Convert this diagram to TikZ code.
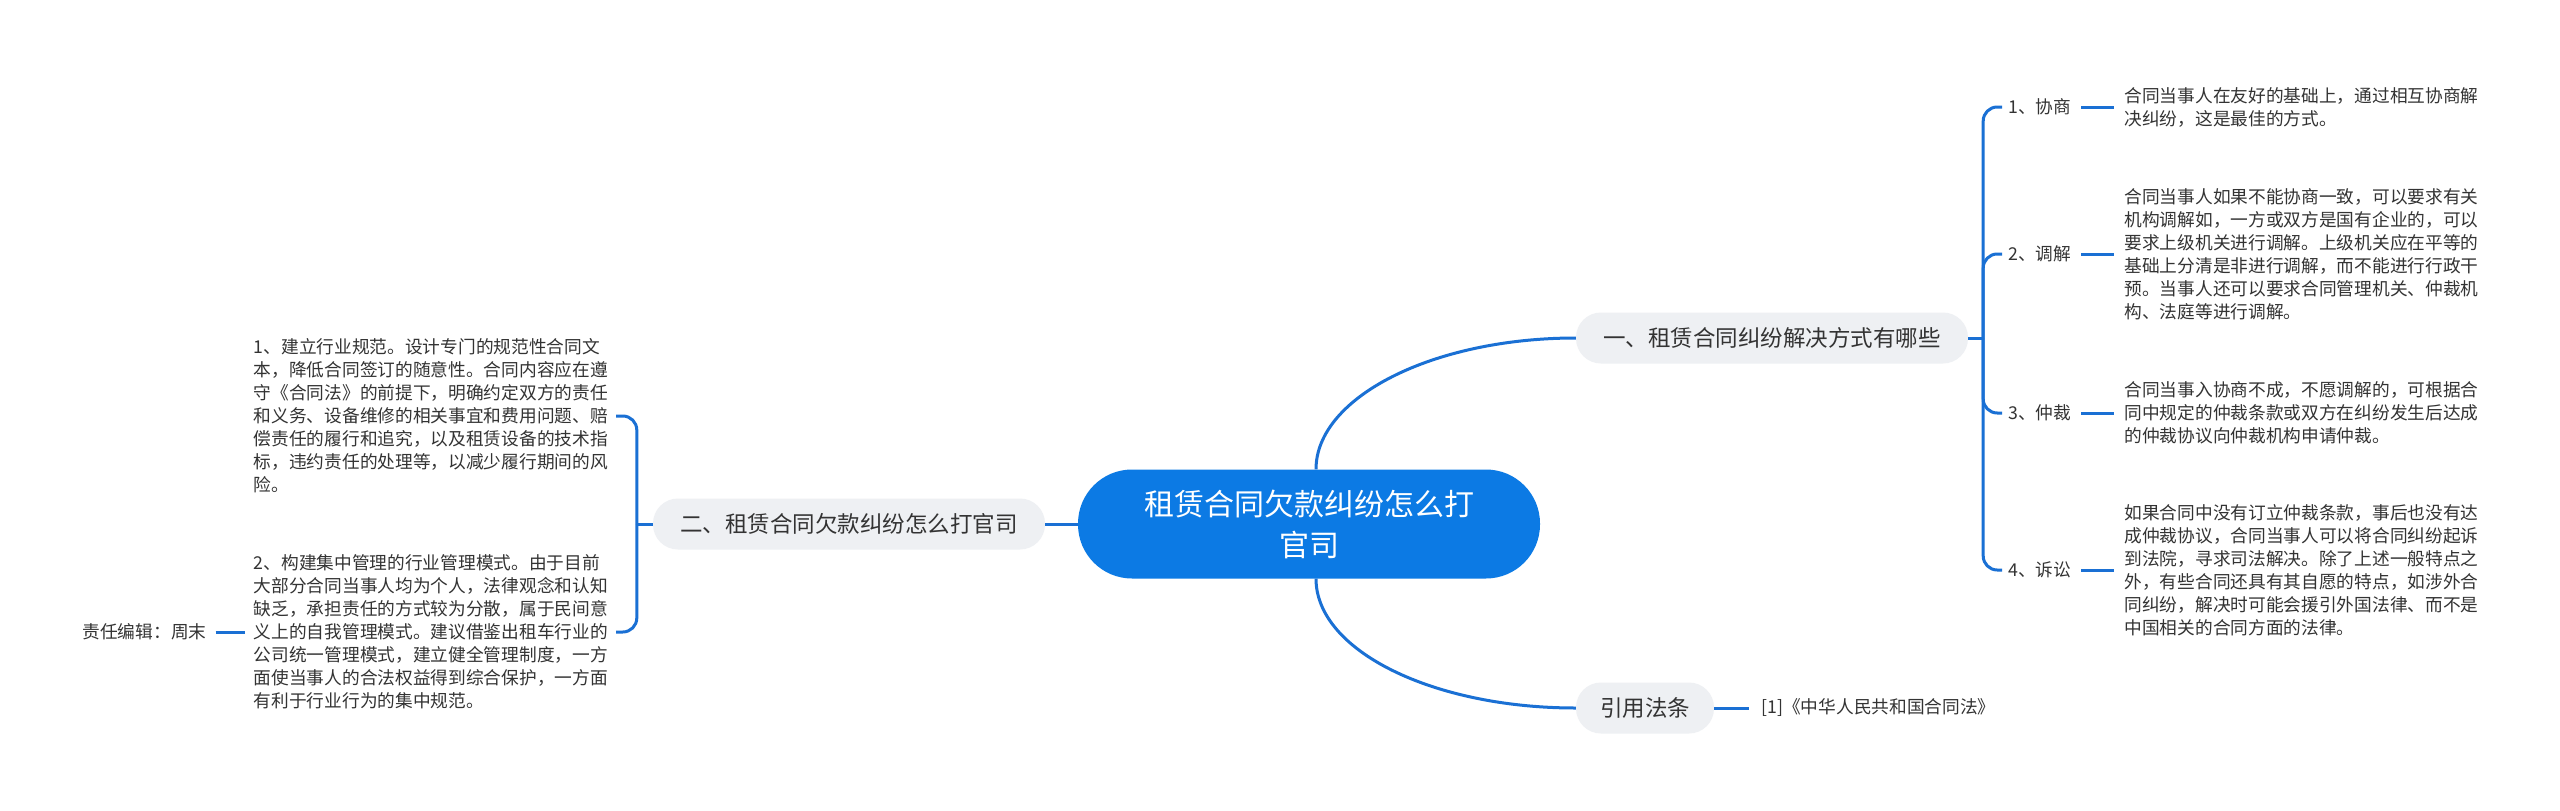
\documentclass[tikz,border=0pt]{standalone}
\usepackage{fontspec}
\newfontfamily\cjk{Noto Sans CJK SC}
\usetikzlibrary{positioning}
\definecolor{mmblue}{RGB}{12,122,228}
\definecolor{mmline}{RGB}{26,112,212}
\definecolor{mmgris}{RGB}{238,240,243}
\definecolor{mmtexte}{RGB}{51,51,51}

\begin{document}
\begin{tikzpicture}[x=1pt,y=-1pt,font=\cjk,
  link/.style={draw=mmline,line width=3pt},
  crochet/.style={link,rounded corners=14pt},
  racine/.style={fill=mmblue,text=white,rounded corners=54pt,minimum width=462pt,minimum height=109pt,align=center,font={\cjk\fontsize{30}{41}\selectfont}},
  branche/.style={fill=mmgris,text=mmtexte,rounded corners=25pt,minimum height=51pt,font={\cjk\fontsize{22.5}{27}\selectfont}},
  feuille/.style={text=mmtexte,inner sep=6pt,font={\cjk\fontsize{17.7}{23}\selectfont}},
  bloc/.style={feuille,text width=356pt,align=left}]
\fill[white] (0,0) rectangle (2560,811);
\useasboundingbox (0,0) rectangle (2560,811);
% racine et branches
\node[racine] (root) at (1309,524) {租赁合同欠款纠纷怎么打\\官司};
\node[branche,minimum width=392pt] (b1) at (1772,338) {一、租赁合同纠纷解决方式有哪些};
\node[branche,minimum width=392pt] (b2) at (849,524) {二、租赁合同欠款纠纷怎么打官司};
\node[branche,minimum width=138pt] (b3) at (1645,708) {引用法条};
\draw[link] ([xshift=7pt]root.north) .. controls +(0,-72) and +(-143,0) .. (b1.west);
\draw[link] ([xshift=7pt]root.south) .. controls +(0,72) and +(-143,0) .. (b3.west);
\draw[link] (root.west) -- (b2.east);
% quatre voies de solution
\draw[link] (b1.east) -- ++(15,0) coordinate (rj);
\foreach \i/\y/\lab/\txt in {
  1/107/{1、协商}/{合同当事人在友好的基础上，通过相互协商解\\决纠纷，这是最佳的方式。},
  2/254/{2、调解}/{合同当事人如果不能协商一致，可以要求有关\\机构调解如，一方或双方是国有企业的，可以\\要求上级机关进行调解。上级机关应在平等的\\基础上分清是非进行调解，而不能进行行政干\\预。当事人还可以要求合同管理机关、仲裁机\\构、法庭等进行调解。},
  3/413/{3、仲裁}/{合同当事入协商不成，不愿调解的，可根据合\\同中规定的仲裁条款或双方在纠纷发生后达成\\的仲裁协议向仲裁机构申请仲裁。},
  4/570/{4、诉讼}/{如果合同中没有订立仲裁条款，事后也没有达\\成仲裁协议，合同当事人可以将合同纠纷起诉\\到法院，寻求司法解决。除了上述一般特点之\\外，有些合同还具有其自愿的特点，如涉外合\\同纠纷，解决时可能会援引外国法律、而不是\\中国相关的合同方面的法律。}}{
  \node[feuille,anchor=west] (l\i) at (2002,\y) {\lab};
  \node[bloc,right=41pt of l\i] (t\i) {\txt};
  \draw[crochet] (rj) |- (l\i.west);
  \draw[link,shorten <=4pt,shorten >=4pt] (l\i.east) -- (t\i.west);
}
% deux mesures, a gauche
\node[bloc,anchor=east] (k1) at (616,416) {1、建立行业规范。设计专门的规范性合同文\\本，降低合同签订的随意性。合同内容应在遵\\守《合同法》的前提下，明确约定双方的责任\\和义务、设备维修的相关事宜和费用问题、赔\\偿责任的履行和追究，以及租赁设备的技术指\\标，违约责任的处理等，以减少履行期间的风\\险。};
\node[bloc,anchor=east] (k2) at (616,632) {2、构建集中管理的行业管理模式。由于目前\\大部分合同当事人均为个人，法律观念和认知\\缺乏，承担责任的方式较为分散，属于民间意\\义上的自我管理模式。建议借鉴出租车行业的\\公司统一管理模式，建立健全管理制度，一方\\面使当事人的合法权益得到综合保护，一方面\\有利于行业行为的集中规范。};
\draw[link] (b2.west) -- ++(-16,0) coordinate (lj);
\draw[crochet] (lj) |- (k1.east);
\draw[crochet] (lj) |- (k2.east);
\node[feuille,left=35pt of k2] (zebian) {责任编辑：周末};
\draw[link,shorten <=3pt,shorten >=3pt] (zebian.east) -- (k2.west);
% reference
\node[feuille,right=41pt of b3] (ref) {[1]《中华人民共和国合同法》};
\draw[link,shorten >=6pt] (b3.east) -- (ref.west);
\end{tikzpicture}
\end{document}
